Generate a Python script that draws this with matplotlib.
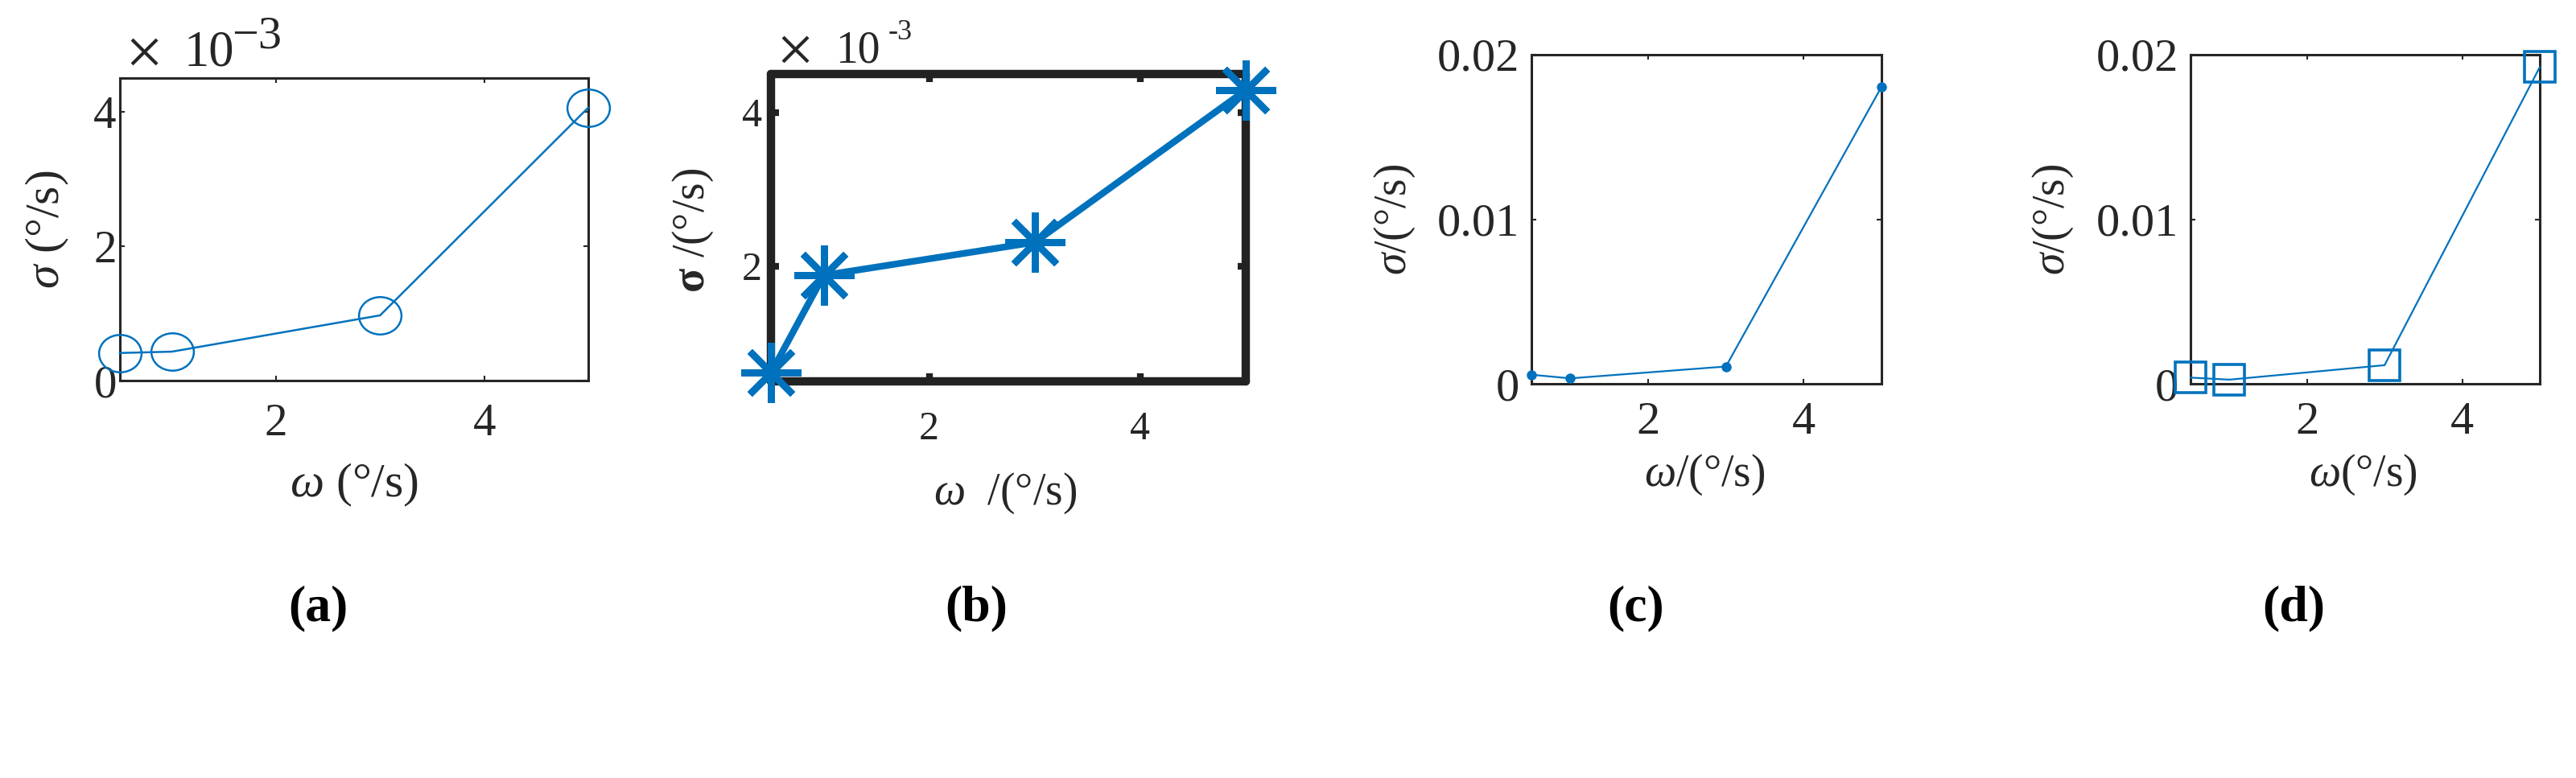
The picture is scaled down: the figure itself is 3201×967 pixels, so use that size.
import matplotlib
matplotlib.use("Agg")
from matplotlib import pyplot as plt
from matplotlib.path import Path
from matplotlib.transforms import Affine2D
from matplotlib.markers import MarkerStyle
import numpy as np

# data
omega = [0.5, 1, 3, 5]
sigma_a = [0.41e-3, 0.43e-3, 0.97e-3, 4.06e-3]
sigma_b = [0.61e-3, 1.88e-3, 2.31e-3, 4.29e-3]
sigma_c = [0.00055, 0.00033, 0.00105, 0.01805]
sigma_d = [0.000375, 0.00025, 0.00113, 0.01925]

xticks = [2, 4]
yticks_ab = [0, 0.002, 0.004]
yticks_ab_labels = ['0', '2', '4']
yticks_cd = [0, 0.01, 0.02]
yticks_cd_labels = ['0', '0.01', '0.02']
panel_names = ['(a)', '(b)', '(c)', '(d)']

plt.rcParams['font.family'] = ['Liberation Serif', 'DejaVu Serif']
plt.rcParams['mathtext.fontset'] = 'custom'
plt.rcParams['mathtext.rm'] = 'Liberation Serif'
plt.rcParams['mathtext.it'] = 'Liberation Serif:italic'
plt.rcParams['mathtext.bf'] = 'Liberation Serif:bold'

W, H = 3201, 967
blue = '#0072BD'
dark = '#262626'

fig = plt.figure(figsize=(W / 100, H / 100), dpi=100)


def px(x, y):
    return x / W, 1 - y / H


def make_ax(l, t, r, b):
    return fig.add_axes([l / W, 1 - b / H, (r - l) / W, (b - t) / H])


# slightly squashed circle, as in the stretched original
circ = Path.unit_circle()
ellipse = circ.transformed(Affine2D().scale(1.0, 0.88))

# (a)
ax = make_ax(149, 97, 731, 473)
ax.plot(omega, sigma_a, color=blue, lw=1.8, marker=ellipse, ms=38,
        mfc='none', mec=blue, mew=1.8, clip_on=False, zorder=5)
ax.set_xlim(0.5, 5)
ax.set_ylim(0, 4.5e-3)
ax.set_xticks(xticks)
ax.set_yticks(yticks_ab)
ax.set_yticklabels(yticks_ab_labels)
ax.tick_params(direction='in', top=True, right=True, length=4, width=1.5,
               color=dark, labelcolor=dark, labelsize=41)
ax.tick_params(axis='x', pad=20)
ax.tick_params(axis='y', pad=3)
for s in ax.spines.values():
    s.set_linewidth(2.2)
    s.set_color(dark)
ax.set_xlabel(r'$\omega$ (°/s)', fontsize=43, color=dark, va='center')
ax.set_ylabel(r'$\sigma$ (°/s)', fontsize=43, color=dark, va='center')
ax.xaxis.set_label_coords(0.5, -0.346)
ax.yaxis.set_label_coords(-0.155, 0.5)
fig.text(*px(155, 92), '×', fontsize=60, color=dark, va='baseline')
fig.text(*px(229, 82), '10', fontsize=45, color=dark, va='baseline')
fig.text(*px(288, 59), '−3', fontsize=42, color=dark, va='baseline')

# (b)
ax = make_ax(958, 92, 1548, 474)
star = MarkerStyle((8, 2, 0), capstyle='round')
ax.plot(omega, sigma_b, color=blue, lw=6, marker=star, ms=54,
        mec=blue, mew=6, clip_on=False, zorder=5,
        solid_capstyle='round', solid_joinstyle='round')
ax.set_xlim(0.5, 5)
ax.set_ylim(0.5e-3, 4.5e-3)
ax.set_xticks(xticks)
ax.set_yticks(yticks_ab[1:])
ax.set_yticklabels(yticks_ab_labels[1:])
ax.tick_params(direction='in', top=True, right=True, length=7, width=6,
               color='#222222', labelcolor=dark, labelsize=36)
ax.tick_params(axis='x', pad=26)
ax.tick_params(axis='y', pad=8)
for s in ax.spines.values():
    s.set_linewidth(7.5)
    s.set_color('#222222')
    s.set_capstyle('round')
ax.set_xlabel(r'$\omega$  /(°/s)', fontsize=40, color=dark, va='center')
ax.set_ylabel(r'$\mathbf{\sigma}$ /(°/s)', fontsize=40, color=dark, va='center')
ax.xaxis.set_label_coords(0.493, -0.364)
ax.yaxis.set_label_coords(-0.164, 0.49)
fig.text(*px(964, 89), '×', fontsize=60, color=dark, va='baseline')
fig.text(*px(1038, 77), '10', fontsize=40, color=dark, va='baseline')
fig.text(*px(1104, 49), '-3', fontsize=26, color=dark, va='baseline')

# (c) and (d)
for l, r, sig, mk, ms, mew in [(1903, 2338, sigma_c, 'o', 8, 1.0),
                               (2722, 3156, sigma_d, 's', 28, 2.6)]:
    ax = make_ax(l, 68, r, 477)
    if mk == 'o':
        ax.plot(omega, sig, color=blue, lw=1.6, marker=mk, ms=ms,
                mfc=blue, mec=blue, clip_on=False, zorder=5)
    else:
        ax.plot(omega, sig, color=blue, lw=1.6, marker=mk, ms=ms,
                mfc='none', mec=blue, mew=mew, clip_on=False, zorder=5)
    ax.set_xlim(0.5, 5)
    ax.set_ylim(0, 0.02)
    ax.set_xticks(xticks)
    ax.set_yticks(yticks_cd)
    ax.set_yticklabels(yticks_cd_labels)
    ax.tick_params(direction='in', top=True, right=True, length=4, width=1.5,
                   color=dark, labelcolor=dark, labelsize=42)
    ax.tick_params(axis='x', pad=16)
    ax.tick_params(axis='y', pad=11)
    for s in ax.spines.values():
        s.set_linewidth(2.2)
        s.set_color(dark)
    if l < 2400:
        ax.set_xlabel(r'$\omega$/(°/s)', fontsize=40, color=dark, va='center')
        ax.xaxis.set_label_coords(0.494, -0.276)
        ax.yaxis.set_label_coords(-0.389, 0.496)
    else:
        ax.set_xlabel(r'$\omega$(°/s)', fontsize=40, color=dark, va='center')
        ax.xaxis.set_label_coords(0.493, -0.276)
        ax.yaxis.set_label_coords(-0.394, 0.496)
    ax.set_ylabel(r'$\sigma$/(°/s)', fontsize=40, color=dark, va='center')

# panel letters
for name, cx in zip(panel_names, [395, 1213, 2033, 2850]):
    fig.text(*px(cx, 756), name, fontsize=46, fontweight='bold',
             ha='center', va='center', color='black')

fig.savefig('out.png', dpi=100)
